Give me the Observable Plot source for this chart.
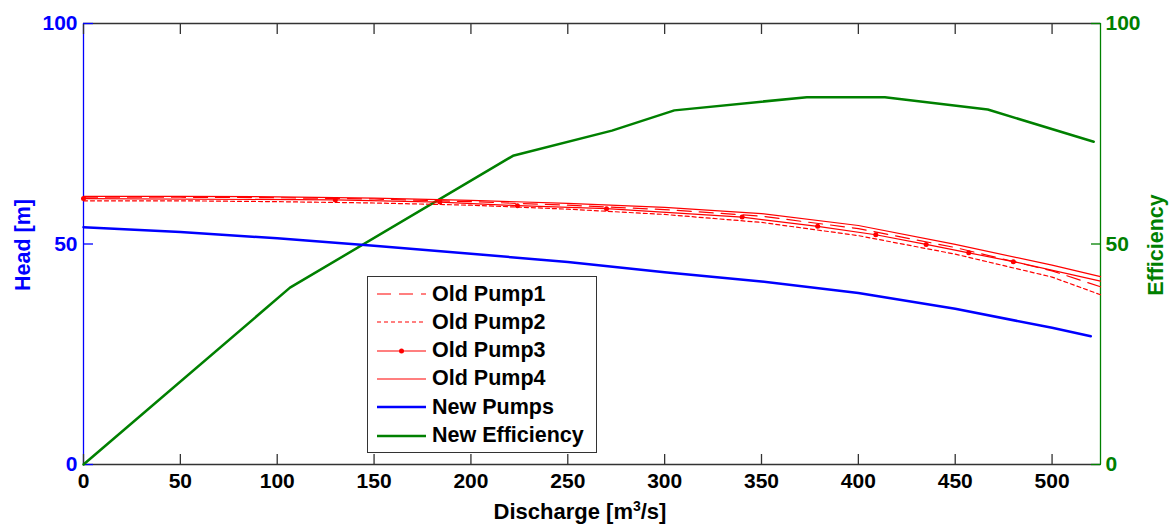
<!DOCTYPE html>
<html>
<head>
<meta charset="utf-8">
<script src="https://cdn.jsdelivr.net/npm/d3@7"></script>
<script src="https://cdn.jsdelivr.net/npm/@observablehq/plot@0.6"></script>
<style>
  html, body { margin: 0; padding: 0; background: white; }
  #wrap { position: relative; width: 1169px; height: 524px; font-family: "Liberation Sans", Arial, sans-serif; font-weight: bold; }
  .ttl { position: absolute; font-size: 21.5px; font-weight: bold; white-space: nowrap; }
  #legend { position: absolute; left: 367px; top: 276px; width: 230px; height: 177px; border: 1px solid #333; background: white; box-sizing: border-box; }
  .entry { position: absolute; left: 0; height: 28px; display: flex; align-items: center; }
  .entry svg { margin-left: 9px; }
  .entry span { margin-left: 6px; font-size: 21.5px; color: black; }
</style>
</head>
<body>
<div id="wrap"></div>
<script>
// X ticks and axis ticks
const xTicks = [0, 50, 100, 150, 200, 250, 300, 350, 400, 450, 500];
const yTicks = [0, 50, 100];

// Old pumps sampled discharge [m3/s]
const qOld = [0, 50, 100, 150, 200, 250, 300, 350, 400, 450, 500, 525];
const headOld1 = [60.6, 60.6, 60.5, 60.2, 59.6, 58.8, 57.8, 56.3, 53.5, 49.2, 43.9, 40.3];
const headOld2 = [59.8, 59.8, 59.6, 59.3, 58.8, 57.9, 56.7, 54.9, 51.9, 47.7, 42.5, 38.5];
const headOld4 = [60.8, 60.8, 60.7, 60.4, 59.9, 59.2, 58.3, 56.9, 54.2, 49.9, 45.2, 42.6];

// Old pump 3 (with point markers)
const qOld3 = [0, 130, 184, 224, 270, 340, 379, 409, 435, 457, 480, 525];
const headOld3 = [60.3, 60.0, 59.5, 58.7, 58.0, 56.1, 54.0, 52.1, 49.9, 48.0, 46.0, 41.6];

// New pumps head
const qNew = [0, 50, 100, 150, 200, 250, 300, 350, 400, 450, 500, 520];
const headNew = [53.8, 52.7, 51.3, 49.6, 47.8, 45.9, 43.6, 41.5, 38.9, 35.3, 31.0, 29.1];

// New efficiency
const qEff = [0, 106.6, 221.7, 272.8, 305, 373.4, 413.7, 466.8, 521.5];
const effNew = [0, 40.1, 70.0, 75.7, 80.3, 83.3, 83.3, 80.5, 73.2];

const xMax = 525;
const RED = "#ff0000", BLUE = "#0000ff", GREEN = "#008000";

const chart = Plot.plot({
  width: 1169,
  height: 524,
  marginLeft: 83,
  marginRight: 69,
  marginTop: 23,
  marginBottom: 60,
  x: { domain: [0, xMax] },
  y: { domain: [0, 100] },
  style: { fontFamily: "'Liberation Sans', Arial, sans-serif", fontSize: "21px", fontWeight: "bold", background: "white", color: "black" },
  marks: [
    // frame
    Plot.ruleY([0, 100], { stroke: "#333", strokeWidth: 1.3 }),
    Plot.ruleX([0], { stroke: BLUE, strokeWidth: 1.3 }),
    Plot.ruleX([xMax], { stroke: GREEN, strokeWidth: 1.3 }),
    // inward ticks
    Plot.axisX({ ticks: xTicks, text: null, tickSize: 10, dy: -10, stroke: "#333", strokeWidth: 1.3 }),
    Plot.axisX({ anchor: "top", ticks: xTicks, text: null, tickSize: 10, dy: 10, stroke: "#333", strokeWidth: 1.3, label: null }),
    Plot.axisY({ anchor: "left", ticks: yTicks, text: null, tickSize: 10, dx: 10, stroke: BLUE, strokeWidth: 1.3, label: null }),
    Plot.axisY({ anchor: "right", ticks: yTicks, text: null, tickSize: 10, dx: -10, stroke: GREEN, strokeWidth: 1.3, label: null }),
    // tick labels
    Plot.axisX({ ticks: xTicks, tickSize: 0, tickPadding: 9, label: null, fill: "black", tickFormat: d => String(d) }),
    Plot.axisY({ anchor: "left", ticks: yTicks, tickSize: 0, tickPadding: 6, label: null, fill: BLUE, tickFormat: d => String(d) }),
    Plot.axisY({ anchor: "right", ticks: yTicks, tickSize: 0, tickPadding: 5, label: null, fill: GREEN, tickFormat: d => String(d) }),
    // data
    Plot.line(qEff, { x: qEff, y: effNew, stroke: GREEN, strokeWidth: 2.5 }),
    Plot.line(qOld, { x: qOld, y: headOld4, stroke: RED, strokeWidth: 1.2 }),
    Plot.line(qOld, { x: qOld, y: headOld1, stroke: RED, strokeWidth: 1.2, strokeDasharray: "14,8" }),
    Plot.line(qOld, { x: qOld, y: headOld2, stroke: RED, strokeWidth: 1.2, strokeDasharray: "4,3" }),
    Plot.line(qOld3, { x: qOld3, y: headOld3, stroke: RED, strokeWidth: 1.2 }),
    Plot.dot(qOld3.slice(0, -1), { x: qOld3.slice(0, -1), y: headOld3.slice(0, -1), r: 2.5, fill: RED, stroke: "none" }),
    Plot.line(qNew, { x: qNew, y: headNew, stroke: BLUE, strokeWidth: 2.5 })
  ]
});

const wrap = document.getElementById("wrap");
wrap.appendChild(chart);

// axis titles
function addTitle(html, css) {
  const d = document.createElement("div");
  d.className = "ttl";
  d.innerHTML = html;
  Object.assign(d.style, css);
  wrap.appendChild(d);
  return d;
}
addTitle("Head [m]", { left: "23px", top: "245px", color: BLUE, transform: "translate(-50%,-50%) rotate(-90deg)" });
addTitle("Efficiency", { left: "1156px", top: "245px", color: GREEN, transform: "translate(-50%,-50%) rotate(-90deg)" });
addTitle("Discharge [m<sup style='font-size:14px;vertical-align:8px;line-height:0'>3</sup>/s]", { left: "580px", top: "499px", color: "black", fontSize: "22px", transform: "translateX(-50%)" });

// legend
const legendNames = ["Old Pump1", "Old Pump2", "Old Pump3", "Old Pump4", "New Pumps", "New Efficiency"];
const legendStyles = [
  { stroke: RED, width: 1.2, dash: "14,8", marker: false },
  { stroke: RED, width: 1.2, dash: "4,3", marker: false },
  { stroke: RED, width: 1.2, dash: null, marker: true },
  { stroke: RED, width: 1.2, dash: null, marker: false },
  { stroke: BLUE, width: 2.5, dash: null, marker: false },
  { stroke: GREEN, width: 2.5, dash: null, marker: false }
];
const legend = document.createElement("div");
legend.id = "legend";
legendNames.forEach((name, i) => {
  const s = legendStyles[i];
  const e = document.createElement("div");
  e.className = "entry";
  e.style.top = (3 + 28.3 * i) + "px";
  e.innerHTML = `<svg width="49" height="12"><line x1="0" y1="6" x2="49" y2="6" stroke="${s.stroke}" stroke-width="${s.width}" ${s.dash ? `stroke-dasharray="${s.dash}"` : ""}/>${s.marker ? `<circle cx="24.5" cy="6" r="2.5" fill="${s.stroke}"/>` : ""}</svg><span>${name}</span>`;
  legend.appendChild(e);
});
wrap.appendChild(legend);
</script>
</body>
</html>
